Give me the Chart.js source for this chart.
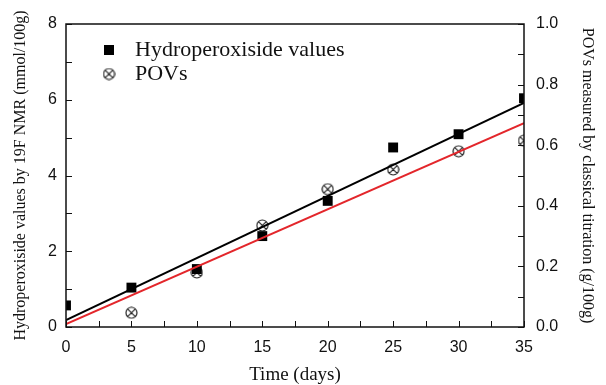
<!DOCTYPE html>
<html>
<head>
<meta charset="utf-8">
<script src="https://cdn.jsdelivr.net/npm/chart.js@4/dist/chart.umd.min.js"></script>
<style>
  html, body { margin: 0; padding: 0; background: #fff; }
  #wrap { width: 606px; height: 385px; }
</style>
</head>
<body>
<div id="wrap"><canvas id="chart"></canvas></div>
<script>
// storage time (days) and measured values
const days = [0, 5, 10, 15, 20, 25, 30, 35];
const hydroValues = [0.57, 1.04, 1.53, 2.40, 3.33, 4.74, 5.09, 6.04];   // mmol/100g, left axis
const povDays = [5, 10, 15, 20, 25, 30, 35];
const povValues = [0.047, 0.18, 0.335, 0.455, 0.52, 0.58, 0.615];      // g/100g, right axis

// linear fits (end points)
const fitDays = [0, 35];
const hydroFit = [0.18, 5.92];
const povFit = [0.01, 0.673];

const seriesNames = ["Hydroperoxiside values", "POVs"];
const xTitle = "Time (days)";
const yLeftTitle = "Hydroperoxiside values by 19F NMR (mmol/100g)";
const yRightTitle = "POVs measured by classical titration (g/100g)";

const sans = '"Liberation Sans", Arial, sans-serif';
const serif = '"Liberation Serif", "Times New Roman", serif';

// circle with an x inside, used for the POV markers
function crossCircle(size, color) {
  const c = document.createElement("canvas");
  c.width = size; c.height = size;
  const g = c.getContext("2d");
  const m = size / 2, r = size / 2 - 1, d = r * Math.SQRT1_2;
  g.strokeStyle = color;
  g.lineWidth = 1.2;
  g.beginPath();
  g.arc(m, m, r, 0, Math.PI * 2);
  g.moveTo(m - d, m - d); g.lineTo(m + d, m + d);
  g.moveTo(m + d, m - d); g.lineTo(m - d, m + d);
  g.stroke();
  return c;
}
const povMarker = crossCircle(13, "#222");

// inward ticks, frame and the in-plot legend
const framePlugin = {
  id: "frame",
  afterDraw(chart) {
    const { ctx, chartArea: a, scales } = chart;
    ctx.save();
    ctx.strokeStyle = "#111";
    ctx.lineWidth = 1;
    ctx.beginPath();
    for (let v = 0; v <= 35; v += 2.5) {
      const x = Math.round(scales.x.getPixelForValue(v)) + 0.5;
      ctx.moveTo(x, a.bottom); ctx.lineTo(x, a.bottom - 6);
    }
    for (let v = 0; v <= 8; v += 1) {
      const y = Math.round(scales.y.getPixelForValue(v)) + 0.5;
      ctx.moveTo(a.left, y); ctx.lineTo(a.left + 6, y);
    }
    for (let i = 0; i <= 10; i++) {
      const y = Math.round(scales.y2.getPixelForValue(i / 10)) + 0.5;
      ctx.moveTo(a.right, y); ctx.lineTo(a.right - 6, y);
    }
    ctx.stroke();
    ctx.lineWidth = 1.5;
    ctx.strokeRect(a.left, a.top, a.right - a.left, a.bottom - a.top);

    // legend
    const lx = a.left + 43, ly = a.top + 26;
    ctx.fillStyle = "#000";
    ctx.fillRect(lx - 5, ly - 5, 10, 10);
    ctx.drawImage(povMarker, lx - 6.5, ly + 24 - 6.5);
    ctx.font = "22px " + serif;
    ctx.fillStyle = "#111";
    ctx.textBaseline = "middle";
    ctx.fillText(seriesNames[0], lx + 26, ly);
    ctx.fillText(seriesNames[1], lx + 26, ly + 24);
    ctx.restore();
  }
};

new Chart(document.getElementById("chart"), {
  type: "scatter",
  data: {
    datasets: [
      {
        label: seriesNames[0] + " fit",
        type: "line",
        data: fitDays.map((d, i) => ({ x: d, y: hydroFit[i] })),
        borderColor: "#000",
        borderWidth: 2,
        pointRadius: 0,
        yAxisID: "y",
        order: 0,
        clip: 0,
      },
      {
        label: seriesNames[1] + " fit",
        type: "line",
        data: fitDays.map((d, i) => ({ x: d, y: povFit[i] })),
        borderColor: "#e3262b",
        borderWidth: 2,
        pointRadius: 0,
        yAxisID: "y2",
        order: 0,
        clip: 0,
      },
      {
        label: seriesNames[0],
        data: days.map((d, i) => ({ x: d, y: hydroValues[i] })),
        pointStyle: "rect",
        pointRadius: 7,
        backgroundColor: "#000",
        borderColor: "#000",
        borderWidth: 0,
        yAxisID: "y",
        order: 1,
        clip: 0,
      },
      {
        label: seriesNames[1],
        data: povDays.map((d, i) => ({ x: d, y: povValues[i] })),
        pointStyle: povMarker,
        pointRadius: 6.5,
        yAxisID: "y2",
        order: 1,
        clip: 0,
      },
    ],
  },
  options: {
    responsive: true,
    maintainAspectRatio: false,
    animation: false,
    events: [],
    layout: { padding: { top: 24, left: 0, right: 0, bottom: 0 } },
    scales: {
      x: {
        type: "linear",
        min: 0,
        max: 35,
        grid: { display: false, drawTicks: false },
        border: { display: false },
        ticks: { stepSize: 5, padding: 11, color: "#111", font: { family: sans, size: 16 } },
        title: { display: true, text: xTitle, color: "#111", padding: 0, font: { family: serif, size: 19, lineHeight: 1 } },
        afterFit(scale) { scale.height = 58; },
      },
      y: {
        position: "left",
        min: 0,
        max: 8,
        grid: { display: false, drawTicks: false },
        border: { display: false },
        ticks: { stepSize: 2, padding: 9, color: "#111", font: { family: sans, size: 16 } },
        title: { display: true, text: yLeftTitle, color: "#111", padding: { top: 11, bottom: 0 }, font: { family: serif, size: 16 } },
        afterFit(scale) { scale.width = 66; },
      },
      y2: {
        position: "right",
        min: 0,
        max: 1,
        grid: { display: false, drawTicks: false },
        border: { display: false },
        ticks: { stepSize: 0.2, padding: 12, color: "#111", font: { family: sans, size: 16 }, callback: (v) => v.toFixed(1) },
        title: { display: true, text: yRightTitle, color: "#111", padding: { top: 9, bottom: 0 }, font: { family: serif, size: 16 } },
        afterFit(scale) { scale.width = 82; },
      },
    },
    plugins: {
      legend: { display: false },
      tooltip: { enabled: false },
    },
  },
  plugins: [framePlugin],
});
</script>
</body>
</html>
